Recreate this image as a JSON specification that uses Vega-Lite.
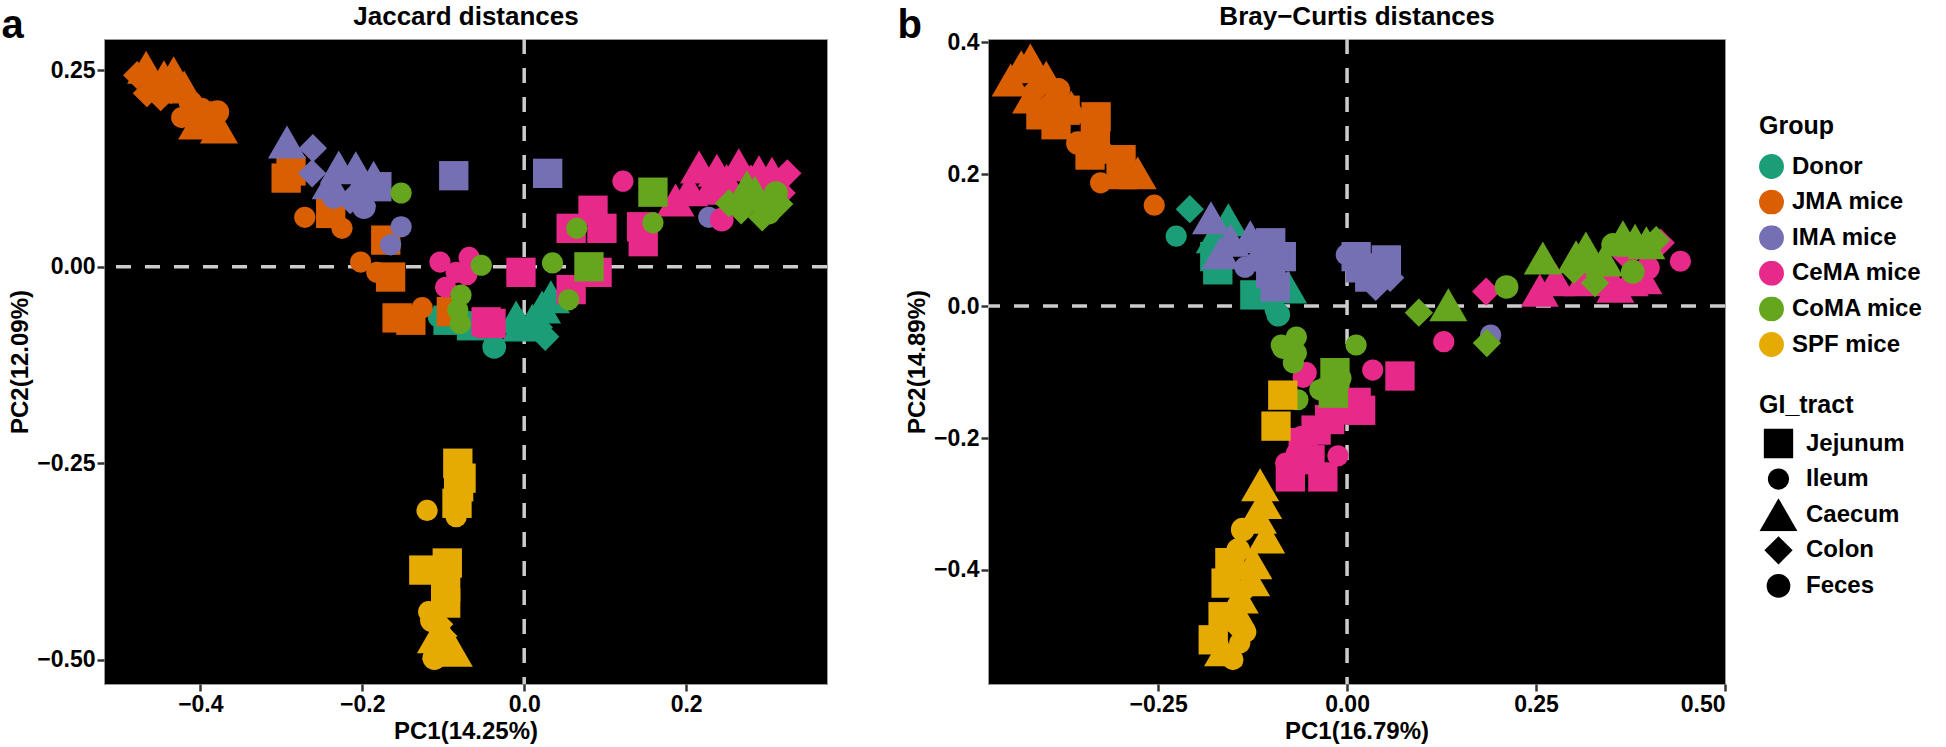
{
"$schema": "https://vega.github.io/schema/vega-lite/v6.json",
"background": "white",
"padding": {"left": 0, "top": 2, "right": 0, "bottom": 0},
"datasets": {"pts": [
{"panel":"a","Group":"Donor","GI_tract":"Caecum","PC1":-0.010,"PC2":-0.064},
{"panel":"a","Group":"Donor","GI_tract":"Caecum","PC1":0.022,"PC2":-0.051},
{"panel":"a","Group":"Donor","GI_tract":"Caecum","PC1":0.033,"PC2":-0.038},
{"panel":"a","Group":"Donor","GI_tract":"Caecum","PC1":0.010,"PC2":-0.068},
{"panel":"a","Group":"Donor","GI_tract":"Caecum","PC1":-0.004,"PC2":-0.074},
{"panel":"a","Group":"Donor","GI_tract":"Colon","PC1":0.018,"PC2":-0.077},
{"panel":"a","Group":"Donor","GI_tract":"Colon","PC1":0.026,"PC2":-0.089},
{"panel":"a","Group":"Donor","GI_tract":"Feces","PC1":-0.037,"PC2":-0.102},
{"panel":"a","Group":"Donor","GI_tract":"Ileum","PC1":-0.106,"PC2":-0.064},
{"panel":"a","Group":"Donor","GI_tract":"Jejunum","PC1":-0.094,"PC2":-0.068},
{"panel":"a","Group":"Donor","GI_tract":"Jejunum","PC1":-0.065,"PC2":-0.075},
{"panel":"a","Group":"JMA mice","GI_tract":"Colon","PC1":-0.478,"PC2":0.244},
{"panel":"a","Group":"JMA mice","GI_tract":"Caecum","PC1":-0.467,"PC2":0.254},
{"panel":"a","Group":"JMA mice","GI_tract":"Caecum","PC1":-0.445,"PC2":0.242},
{"panel":"a","Group":"JMA mice","GI_tract":"Caecum","PC1":-0.433,"PC2":0.247},
{"panel":"a","Group":"JMA mice","GI_tract":"Colon","PC1":-0.449,"PC2":0.216},
{"panel":"a","Group":"JMA mice","GI_tract":"Caecum","PC1":-0.420,"PC2":0.229},
{"panel":"a","Group":"JMA mice","GI_tract":"Feces","PC1":-0.412,"PC2":0.209},
{"panel":"a","Group":"JMA mice","GI_tract":"Ileum","PC1":-0.423,"PC2":0.190},
{"panel":"a","Group":"JMA mice","GI_tract":"Caecum","PC1":-0.387,"PC2":0.191},
{"panel":"a","Group":"JMA mice","GI_tract":"Feces","PC1":-0.379,"PC2":0.197},
{"panel":"a","Group":"JMA mice","GI_tract":"Caecum","PC1":-0.377,"PC2":0.178},
{"panel":"a","Group":"JMA mice","GI_tract":"Colon","PC1":-0.466,"PC2":0.221},
{"panel":"a","Group":"JMA mice","GI_tract":"Caecum","PC1":-0.404,"PC2":0.183},
{"panel":"a","Group":"JMA mice","GI_tract":"Colon","PC1":-0.436,"PC2":0.225},
{"panel":"a","Group":"JMA mice","GI_tract":"Feces","PC1":-0.399,"PC2":0.200},
{"panel":"a","Group":"JMA mice","GI_tract":"Jejunum","PC1":-0.294,"PC2":0.113},
{"panel":"a","Group":"JMA mice","GI_tract":"Jejunum","PC1":-0.288,"PC2":0.122},
{"panel":"a","Group":"JMA mice","GI_tract":"Jejunum","PC1":-0.239,"PC2":0.068},
{"panel":"a","Group":"JMA mice","GI_tract":"Ileum","PC1":-0.271,"PC2":0.063},
{"panel":"a","Group":"JMA mice","GI_tract":"Ileum","PC1":-0.225,"PC2":0.049},
{"panel":"a","Group":"JMA mice","GI_tract":"Jejunum","PC1":-0.171,"PC2":0.034},
{"panel":"a","Group":"JMA mice","GI_tract":"Ileum","PC1":-0.202,"PC2":0.006},
{"panel":"a","Group":"JMA mice","GI_tract":"Ileum","PC1":-0.182,"PC2":-0.007},
{"panel":"a","Group":"JMA mice","GI_tract":"Jejunum","PC1":-0.165,"PC2":-0.013},
{"panel":"a","Group":"JMA mice","GI_tract":"Jejunum","PC1":-0.157,"PC2":-0.065},
{"panel":"a","Group":"JMA mice","GI_tract":"Jejunum","PC1":-0.140,"PC2":-0.068},
{"panel":"a","Group":"JMA mice","GI_tract":"Ileum","PC1":-0.126,"PC2":-0.052},
{"panel":"a","Group":"JMA mice","GI_tract":"Jejunum","PC1":-0.090,"PC2":-0.057},
{"panel":"a","Group":"IMA mice","GI_tract":"Caecum","PC1":-0.293,"PC2":0.159},
{"panel":"a","Group":"IMA mice","GI_tract":"Colon","PC1":-0.261,"PC2":0.151},
{"panel":"a","Group":"IMA mice","GI_tract":"Colon","PC1":-0.262,"PC2":0.119},
{"panel":"a","Group":"IMA mice","GI_tract":"Caecum","PC1":-0.229,"PC2":0.127},
{"panel":"a","Group":"IMA mice","GI_tract":"Caecum","PC1":-0.208,"PC2":0.126},
{"panel":"a","Group":"IMA mice","GI_tract":"Caecum","PC1":-0.186,"PC2":0.114},
{"panel":"a","Group":"IMA mice","GI_tract":"Caecum","PC1":-0.239,"PC2":0.107},
{"panel":"a","Group":"IMA mice","GI_tract":"Feces","PC1":-0.198,"PC2":0.076},
{"panel":"a","Group":"IMA mice","GI_tract":"Jejunum","PC1":-0.182,"PC2":0.102},
{"panel":"a","Group":"IMA mice","GI_tract":"Ileum","PC1":-0.152,"PC2":0.051},
{"panel":"a","Group":"IMA mice","GI_tract":"Ileum","PC1":-0.165,"PC2":0.028},
{"panel":"a","Group":"IMA mice","GI_tract":"Feces","PC1":-0.235,"PC2":0.089},
{"panel":"a","Group":"IMA mice","GI_tract":"Caecum","PC1":-0.206,"PC2":0.098},
{"panel":"a","Group":"IMA mice","GI_tract":"Colon","PC1":-0.215,"PC2":0.085},
{"panel":"a","Group":"IMA mice","GI_tract":"Jejunum","PC1":-0.087,"PC2":0.116},
{"panel":"a","Group":"IMA mice","GI_tract":"Jejunum","PC1":0.029,"PC2":0.119},
{"panel":"a","Group":"IMA mice","GI_tract":"Ileum","PC1":0.228,"PC2":0.063},
{"panel":"a","Group":"CeMA mice","GI_tract":"Ileum","PC1":0.122,"PC2":0.109},
{"panel":"a","Group":"CeMA mice","GI_tract":"Caecum","PC1":0.216,"PC2":0.127},
{"panel":"a","Group":"CeMA mice","GI_tract":"Caecum","PC1":0.238,"PC2":0.123},
{"panel":"a","Group":"CeMA mice","GI_tract":"Caecum","PC1":0.265,"PC2":0.130},
{"panel":"a","Group":"CeMA mice","GI_tract":"Caecum","PC1":0.290,"PC2":0.121},
{"panel":"a","Group":"CeMA mice","GI_tract":"Caecum","PC1":0.306,"PC2":0.119},
{"panel":"a","Group":"CeMA mice","GI_tract":"Caecum","PC1":0.204,"PC2":0.098},
{"panel":"a","Group":"CeMA mice","GI_tract":"Caecum","PC1":0.187,"PC2":0.085},
{"panel":"a","Group":"CeMA mice","GI_tract":"Caecum","PC1":0.250,"PC2":0.110},
{"panel":"a","Group":"CeMA mice","GI_tract":"Caecum","PC1":0.230,"PC2":0.100},
{"panel":"a","Group":"CeMA mice","GI_tract":"Colon","PC1":0.325,"PC2":0.119},
{"panel":"a","Group":"CeMA mice","GI_tract":"Colon","PC1":0.318,"PC2":0.094},
{"panel":"a","Group":"CeMA mice","GI_tract":"Colon","PC1":0.280,"PC2":0.112},
{"panel":"a","Group":"CeMA mice","GI_tract":"Colon","PC1":0.300,"PC2":0.100},
{"panel":"a","Group":"CeMA mice","GI_tract":"Feces","PC1":0.244,"PC2":0.060},
{"panel":"a","Group":"CeMA mice","GI_tract":"Jejunum","PC1":0.085,"PC2":0.072},
{"panel":"a","Group":"CeMA mice","GI_tract":"Jejunum","PC1":0.058,"PC2":0.049},
{"panel":"a","Group":"CeMA mice","GI_tract":"Jejunum","PC1":0.096,"PC2":0.049},
{"panel":"a","Group":"CeMA mice","GI_tract":"Jejunum","PC1":0.145,"PC2":0.051},
{"panel":"a","Group":"CeMA mice","GI_tract":"Jejunum","PC1":0.147,"PC2":0.032},
{"panel":"a","Group":"CeMA mice","GI_tract":"Ileum","PC1":-0.104,"PC2":0.006},
{"panel":"a","Group":"CeMA mice","GI_tract":"Ileum","PC1":-0.068,"PC2":0.012},
{"panel":"a","Group":"CeMA mice","GI_tract":"Ileum","PC1":-0.097,"PC2":-0.026},
{"panel":"a","Group":"CeMA mice","GI_tract":"Ileum","PC1":-0.071,"PC2":-0.010},
{"panel":"a","Group":"CeMA mice","GI_tract":"Ileum","PC1":-0.084,"PC2":-0.007},
{"panel":"a","Group":"CeMA mice","GI_tract":"Jejunum","PC1":-0.004,"PC2":-0.007},
{"panel":"a","Group":"CeMA mice","GI_tract":"Jejunum","PC1":0.090,"PC2":-0.007},
{"panel":"a","Group":"CeMA mice","GI_tract":"Jejunum","PC1":0.058,"PC2":-0.029},
{"panel":"a","Group":"CeMA mice","GI_tract":"Jejunum","PC1":-0.047,"PC2":-0.070},
{"panel":"a","Group":"CeMA mice","GI_tract":"Jejunum","PC1":-0.041,"PC2":-0.072},
{"panel":"a","Group":"CoMA mice","GI_tract":"Ileum","PC1":-0.152,"PC2":0.094},
{"panel":"a","Group":"CoMA mice","GI_tract":"Jejunum","PC1":0.159,"PC2":0.095},
{"panel":"a","Group":"CoMA mice","GI_tract":"Colon","PC1":0.268,"PC2":0.072},
{"panel":"a","Group":"CoMA mice","GI_tract":"Caecum","PC1":0.275,"PC2":0.102},
{"panel":"a","Group":"CoMA mice","GI_tract":"Caecum","PC1":0.285,"PC2":0.095},
{"panel":"a","Group":"CoMA mice","GI_tract":"Feces","PC1":0.311,"PC2":0.094},
{"panel":"a","Group":"CoMA mice","GI_tract":"Feces","PC1":0.302,"PC2":0.069},
{"panel":"a","Group":"CoMA mice","GI_tract":"Colon","PC1":0.294,"PC2":0.063},
{"panel":"a","Group":"CoMA mice","GI_tract":"Colon","PC1":0.253,"PC2":0.081},
{"panel":"a","Group":"CoMA mice","GI_tract":"Colon","PC1":0.315,"PC2":0.080},
{"panel":"a","Group":"CoMA mice","GI_tract":"Feces","PC1":0.286,"PC2":0.085},
{"panel":"a","Group":"CoMA mice","GI_tract":"Ileum","PC1":0.065,"PC2":0.049},
{"panel":"a","Group":"CoMA mice","GI_tract":"Ileum","PC1":0.159,"PC2":0.056},
{"panel":"a","Group":"CoMA mice","GI_tract":"Ileum","PC1":-0.053,"PC2":0.002},
{"panel":"a","Group":"CoMA mice","GI_tract":"Ileum","PC1":0.035,"PC2":0.005},
{"panel":"a","Group":"CoMA mice","GI_tract":"Jejunum","PC1":0.080,"PC2":0.000},
{"panel":"a","Group":"CoMA mice","GI_tract":"Ileum","PC1":0.055,"PC2":-0.042},
{"panel":"a","Group":"CoMA mice","GI_tract":"Ileum","PC1":-0.078,"PC2":-0.036},
{"panel":"a","Group":"CoMA mice","GI_tract":"Ileum","PC1":-0.082,"PC2":-0.055},
{"panel":"a","Group":"CoMA mice","GI_tract":"Ileum","PC1":-0.079,"PC2":-0.072},
{"panel":"a","Group":"SPF mice","GI_tract":"Jejunum","PC1":-0.082,"PC2":-0.250},
{"panel":"a","Group":"SPF mice","GI_tract":"Jejunum","PC1":-0.078,"PC2":-0.269},
{"panel":"a","Group":"SPF mice","GI_tract":"Jejunum","PC1":-0.081,"PC2":-0.280},
{"panel":"a","Group":"SPF mice","GI_tract":"Jejunum","PC1":-0.083,"PC2":-0.301},
{"panel":"a","Group":"SPF mice","GI_tract":"Ileum","PC1":-0.084,"PC2":-0.318},
{"panel":"a","Group":"SPF mice","GI_tract":"Ileum","PC1":-0.120,"PC2":-0.310},
{"panel":"a","Group":"SPF mice","GI_tract":"Jejunum","PC1":-0.124,"PC2":-0.386},
{"panel":"a","Group":"SPF mice","GI_tract":"Jejunum","PC1":-0.095,"PC2":-0.377},
{"panel":"a","Group":"SPF mice","GI_tract":"Jejunum","PC1":-0.097,"PC2":-0.408},
{"panel":"a","Group":"SPF mice","GI_tract":"Jejunum","PC1":-0.097,"PC2":-0.428},
{"panel":"a","Group":"SPF mice","GI_tract":"Ileum","PC1":-0.118,"PC2":-0.439},
{"panel":"a","Group":"SPF mice","GI_tract":"Feces","PC1":-0.114,"PC2":-0.450},
{"panel":"a","Group":"SPF mice","GI_tract":"Colon","PC1":-0.105,"PC2":-0.455},
{"panel":"a","Group":"SPF mice","GI_tract":"Caecum","PC1":-0.102,"PC2":-0.462},
{"panel":"a","Group":"SPF mice","GI_tract":"Colon","PC1":-0.100,"PC2":-0.470},
{"panel":"a","Group":"SPF mice","GI_tract":"Caecum","PC1":-0.109,"PC2":-0.471},
{"panel":"a","Group":"SPF mice","GI_tract":"Caecum","PC1":-0.103,"PC2":-0.479},
{"panel":"a","Group":"SPF mice","GI_tract":"Caecum","PC1":-0.087,"PC2":-0.488},
{"panel":"a","Group":"SPF mice","GI_tract":"Feces","PC1":-0.111,"PC2":-0.498},
{"panel":"b","Group":"Donor","GI_tract":"Colon","PC1":-0.208,"PC2":0.147},
{"panel":"b","Group":"Donor","GI_tract":"Ileum","PC1":-0.226,"PC2":0.106},
{"panel":"b","Group":"Donor","GI_tract":"Caecum","PC1":-0.157,"PC2":0.131},
{"panel":"b","Group":"Donor","GI_tract":"Caecum","PC1":-0.175,"PC2":0.105},
{"panel":"b","Group":"Donor","GI_tract":"Jejunum","PC1":-0.171,"PC2":0.055},
{"panel":"b","Group":"Donor","GI_tract":"Jejunum","PC1":-0.175,"PC2":0.075},
{"panel":"b","Group":"Donor","GI_tract":"Jejunum","PC1":-0.122,"PC2":0.017},
{"panel":"b","Group":"Donor","GI_tract":"Caecum","PC1":-0.078,"PC2":0.029},
{"panel":"b","Group":"Donor","GI_tract":"Ileum","PC1":-0.095,"PC2":-0.005},
{"panel":"b","Group":"Donor","GI_tract":"Feces","PC1":-0.091,"PC2":-0.013},
{"panel":"b","Group":"JMA mice","GI_tract":"Caecum","PC1":-0.431,"PC2":0.363},
{"panel":"b","Group":"JMA mice","GI_tract":"Caecum","PC1":-0.419,"PC2":0.373},
{"panel":"b","Group":"JMA mice","GI_tract":"Caecum","PC1":-0.398,"PC2":0.347},
{"panel":"b","Group":"JMA mice","GI_tract":"Caecum","PC1":-0.445,"PC2":0.343},
{"panel":"b","Group":"JMA mice","GI_tract":"Caecum","PC1":-0.380,"PC2":0.317},
{"panel":"b","Group":"JMA mice","GI_tract":"Caecum","PC1":-0.418,"PC2":0.317},
{"panel":"b","Group":"JMA mice","GI_tract":"Colon","PC1":-0.410,"PC2":0.330},
{"panel":"b","Group":"JMA mice","GI_tract":"Colon","PC1":-0.390,"PC2":0.310},
{"panel":"b","Group":"JMA mice","GI_tract":"Feces","PC1":-0.382,"PC2":0.328},
{"panel":"b","Group":"JMA mice","GI_tract":"Jejunum","PC1":-0.405,"PC2":0.290},
{"panel":"b","Group":"JMA mice","GI_tract":"Jejunum","PC1":-0.385,"PC2":0.275},
{"panel":"b","Group":"JMA mice","GI_tract":"Jejunum","PC1":-0.373,"PC2":0.297},
{"panel":"b","Group":"JMA mice","GI_tract":"Caecum","PC1":-0.365,"PC2":0.302},
{"panel":"b","Group":"JMA mice","GI_tract":"Jejunum","PC1":-0.332,"PC2":0.287},
{"panel":"b","Group":"JMA mice","GI_tract":"Jejunum","PC1":-0.333,"PC2":0.256},
{"panel":"b","Group":"JMA mice","GI_tract":"Feces","PC1":-0.356,"PC2":0.247},
{"panel":"b","Group":"JMA mice","GI_tract":"Jejunum","PC1":-0.340,"PC2":0.229},
{"panel":"b","Group":"JMA mice","GI_tract":"Caecum","PC1":-0.323,"PC2":0.241},
{"panel":"b","Group":"JMA mice","GI_tract":"Jejunum","PC1":-0.299,"PC2":0.222},
{"panel":"b","Group":"JMA mice","GI_tract":"Caecum","PC1":-0.303,"PC2":0.202},
{"panel":"b","Group":"JMA mice","GI_tract":"Caecum","PC1":-0.277,"PC2":0.202},
{"panel":"b","Group":"JMA mice","GI_tract":"Ileum","PC1":-0.326,"PC2":0.187},
{"panel":"b","Group":"JMA mice","GI_tract":"Ileum","PC1":-0.255,"PC2":0.153},
{"panel":"b","Group":"IMA mice","GI_tract":"Caecum","PC1":-0.180,"PC2":0.134},
{"panel":"b","Group":"IMA mice","GI_tract":"Caecum","PC1":-0.154,"PC2":0.100},
{"panel":"b","Group":"IMA mice","GI_tract":"Caecum","PC1":-0.128,"PC2":0.105},
{"panel":"b","Group":"IMA mice","GI_tract":"Caecum","PC1":-0.167,"PC2":0.081},
{"panel":"b","Group":"IMA mice","GI_tract":"Jejunum","PC1":-0.101,"PC2":0.096},
{"panel":"b","Group":"IMA mice","GI_tract":"Jejunum","PC1":-0.087,"PC2":0.075},
{"panel":"b","Group":"IMA mice","GI_tract":"Jejunum","PC1":-0.101,"PC2":0.050},
{"panel":"b","Group":"IMA mice","GI_tract":"Jejunum","PC1":-0.095,"PC2":0.029},
{"panel":"b","Group":"IMA mice","GI_tract":"Ileum","PC1":-0.135,"PC2":0.059},
{"panel":"b","Group":"IMA mice","GI_tract":"Colon","PC1":-0.118,"PC2":0.070},
{"panel":"b","Group":"IMA mice","GI_tract":"Ileum","PC1":-0.001,"PC2":0.078},
{"panel":"b","Group":"IMA mice","GI_tract":"Jejunum","PC1":0.012,"PC2":0.075},
{"panel":"b","Group":"IMA mice","GI_tract":"Jejunum","PC1":0.052,"PC2":0.070},
{"panel":"b","Group":"IMA mice","GI_tract":"Jejunum","PC1":0.018,"PC2":0.058},
{"panel":"b","Group":"IMA mice","GI_tract":"Jejunum","PC1":0.030,"PC2":0.044},
{"panel":"b","Group":"IMA mice","GI_tract":"Colon","PC1":0.057,"PC2":0.043},
{"panel":"b","Group":"IMA mice","GI_tract":"Colon","PC1":0.038,"PC2":0.029},
{"panel":"b","Group":"IMA mice","GI_tract":"Ileum","PC1":0.190,"PC2":-0.044},
{"panel":"b","Group":"CeMA mice","GI_tract":"Colon","PC1":0.184,"PC2":0.022},
{"panel":"b","Group":"CeMA mice","GI_tract":"Ileum","PC1":0.128,"PC2":-0.054},
{"panel":"b","Group":"CeMA mice","GI_tract":"Caecum","PC1":0.255,"PC2":0.024},
{"panel":"b","Group":"CeMA mice","GI_tract":"Caecum","PC1":0.276,"PC2":0.040},
{"panel":"b","Group":"CeMA mice","GI_tract":"Caecum","PC1":0.312,"PC2":0.040},
{"panel":"b","Group":"CeMA mice","GI_tract":"Caecum","PC1":0.339,"PC2":0.055},
{"panel":"b","Group":"CeMA mice","GI_tract":"Caecum","PC1":0.355,"PC2":0.030},
{"panel":"b","Group":"CeMA mice","GI_tract":"Caecum","PC1":0.374,"PC2":0.040},
{"panel":"b","Group":"CeMA mice","GI_tract":"Caecum","PC1":0.392,"PC2":0.043},
{"panel":"b","Group":"CeMA mice","GI_tract":"Colon","PC1":0.343,"PC2":0.029},
{"panel":"b","Group":"CeMA mice","GI_tract":"Colon","PC1":0.370,"PC2":0.075},
{"panel":"b","Group":"CeMA mice","GI_tract":"Colon","PC1":0.415,"PC2":0.096},
{"panel":"b","Group":"CeMA mice","GI_tract":"Feces","PC1":0.398,"PC2":0.058},
{"panel":"b","Group":"CeMA mice","GI_tract":"Ileum","PC1":0.441,"PC2":0.068},
{"panel":"b","Group":"CeMA mice","GI_tract":"Ileum","PC1":0.034,"PC2":-0.097},
{"panel":"b","Group":"CeMA mice","GI_tract":"Jejunum","PC1":0.070,"PC2":-0.106},
{"panel":"b","Group":"CeMA mice","GI_tract":"Ileum","PC1":-0.054,"PC2":-0.101},
{"panel":"b","Group":"CeMA mice","GI_tract":"Ileum","PC1":-0.058,"PC2":-0.108},
{"panel":"b","Group":"CeMA mice","GI_tract":"Jejunum","PC1":0.012,"PC2":-0.146},
{"panel":"b","Group":"CeMA mice","GI_tract":"Jejunum","PC1":0.018,"PC2":-0.158},
{"panel":"b","Group":"CeMA mice","GI_tract":"Jejunum","PC1":-0.018,"PC2":-0.157},
{"panel":"b","Group":"CeMA mice","GI_tract":"Jejunum","PC1":-0.023,"PC2":-0.172},
{"panel":"b","Group":"CeMA mice","GI_tract":"Jejunum","PC1":-0.041,"PC2":-0.188},
{"panel":"b","Group":"CeMA mice","GI_tract":"Ileum","PC1":-0.061,"PC2":-0.198},
{"panel":"b","Group":"CeMA mice","GI_tract":"Jejunum","PC1":-0.058,"PC2":-0.207},
{"panel":"b","Group":"CeMA mice","GI_tract":"Ileum","PC1":-0.067,"PC2":-0.223},
{"panel":"b","Group":"CeMA mice","GI_tract":"Jejunum","PC1":-0.049,"PC2":-0.233},
{"panel":"b","Group":"CeMA mice","GI_tract":"Ileum","PC1":-0.012,"PC2":-0.227},
{"panel":"b","Group":"CeMA mice","GI_tract":"Ileum","PC1":-0.081,"PC2":-0.238},
{"panel":"b","Group":"CeMA mice","GI_tract":"Jejunum","PC1":-0.075,"PC2":-0.259},
{"panel":"b","Group":"CeMA mice","GI_tract":"Jejunum","PC1":-0.032,"PC2":-0.259},
{"panel":"b","Group":"CoMA mice","GI_tract":"Colon","PC1":0.095,"PC2":-0.010},
{"panel":"b","Group":"CoMA mice","GI_tract":"Caecum","PC1":0.134,"PC2":0.002},
{"panel":"b","Group":"CoMA mice","GI_tract":"Feces","PC1":0.211,"PC2":0.029},
{"panel":"b","Group":"CoMA mice","GI_tract":"Colon","PC1":0.185,"PC2":-0.056},
{"panel":"b","Group":"CoMA mice","GI_tract":"Caecum","PC1":0.259,"PC2":0.073},
{"panel":"b","Group":"CoMA mice","GI_tract":"Caecum","PC1":0.303,"PC2":0.075},
{"panel":"b","Group":"CoMA mice","GI_tract":"Caecum","PC1":0.316,"PC2":0.088},
{"panel":"b","Group":"CoMA mice","GI_tract":"Caecum","PC1":0.340,"PC2":0.070},
{"panel":"b","Group":"CoMA mice","GI_tract":"Caecum","PC1":0.365,"PC2":0.105},
{"panel":"b","Group":"CoMA mice","GI_tract":"Caecum","PC1":0.381,"PC2":0.100},
{"panel":"b","Group":"CoMA mice","GI_tract":"Caecum","PC1":0.396,"PC2":0.096},
{"panel":"b","Group":"CoMA mice","GI_tract":"Feces","PC1":0.352,"PC2":0.093},
{"panel":"b","Group":"CoMA mice","GI_tract":"Feces","PC1":0.378,"PC2":0.052},
{"panel":"b","Group":"CoMA mice","GI_tract":"Feces","PC1":0.329,"PC2":0.060},
{"panel":"b","Group":"CoMA mice","GI_tract":"Colon","PC1":0.328,"PC2":0.035},
{"panel":"b","Group":"CoMA mice","GI_tract":"Colon","PC1":0.300,"PC2":0.055},
{"panel":"b","Group":"CoMA mice","GI_tract":"Colon","PC1":0.409,"PC2":0.100},
{"panel":"b","Group":"CoMA mice","GI_tract":"Ileum","PC1":-0.067,"PC2":-0.047},
{"panel":"b","Group":"CoMA mice","GI_tract":"Ileum","PC1":-0.087,"PC2":-0.059},
{"panel":"b","Group":"CoMA mice","GI_tract":"Ileum","PC1":-0.085,"PC2":-0.064},
{"panel":"b","Group":"CoMA mice","GI_tract":"Ileum","PC1":-0.067,"PC2":-0.071},
{"panel":"b","Group":"CoMA mice","GI_tract":"Ileum","PC1":-0.071,"PC2":-0.086},
{"panel":"b","Group":"CoMA mice","GI_tract":"Ileum","PC1":0.012,"PC2":-0.059},
{"panel":"b","Group":"CoMA mice","GI_tract":"Jejunum","PC1":-0.016,"PC2":-0.101},
{"panel":"b","Group":"CoMA mice","GI_tract":"Ileum","PC1":-0.008,"PC2":-0.109},
{"panel":"b","Group":"CoMA mice","GI_tract":"Ileum","PC1":-0.036,"PC2":-0.127},
{"panel":"b","Group":"CoMA mice","GI_tract":"Jejunum","PC1":-0.018,"PC2":-0.132},
{"panel":"b","Group":"CoMA mice","GI_tract":"Ileum","PC1":-0.065,"PC2":-0.142},
{"panel":"b","Group":"SPF mice","GI_tract":"Jejunum","PC1":-0.085,"PC2":-0.135},
{"panel":"b","Group":"SPF mice","GI_tract":"Jejunum","PC1":-0.094,"PC2":-0.182},
{"panel":"b","Group":"SPF mice","GI_tract":"Caecum","PC1":-0.115,"PC2":-0.271},
{"panel":"b","Group":"SPF mice","GI_tract":"Caecum","PC1":-0.111,"PC2":-0.298},
{"panel":"b","Group":"SPF mice","GI_tract":"Caecum","PC1":-0.118,"PC2":-0.320},
{"panel":"b","Group":"SPF mice","GI_tract":"Feces","PC1":-0.138,"PC2":-0.339},
{"panel":"b","Group":"SPF mice","GI_tract":"Caecum","PC1":-0.107,"PC2":-0.350},
{"panel":"b","Group":"SPF mice","GI_tract":"Feces","PC1":-0.144,"PC2":-0.370},
{"panel":"b","Group":"SPF mice","GI_tract":"Caecum","PC1":-0.124,"PC2":-0.389},
{"panel":"b","Group":"SPF mice","GI_tract":"Jejunum","PC1":-0.155,"PC2":-0.389},
{"panel":"b","Group":"SPF mice","GI_tract":"Caecum","PC1":-0.127,"PC2":-0.415},
{"panel":"b","Group":"SPF mice","GI_tract":"Jejunum","PC1":-0.160,"PC2":-0.420},
{"panel":"b","Group":"SPF mice","GI_tract":"Colon","PC1":-0.135,"PC2":-0.430},
{"panel":"b","Group":"SPF mice","GI_tract":"Caecum","PC1":-0.142,"PC2":-0.441},
{"panel":"b","Group":"SPF mice","GI_tract":"Caecum","PC1":-0.147,"PC2":-0.461},
{"panel":"b","Group":"SPF mice","GI_tract":"Jejunum","PC1":-0.164,"PC2":-0.471},
{"panel":"b","Group":"SPF mice","GI_tract":"Colon","PC1":-0.150,"PC2":-0.480},
{"panel":"b","Group":"SPF mice","GI_tract":"Ileum","PC1":-0.134,"PC2":-0.494},
{"panel":"b","Group":"SPF mice","GI_tract":"Jejunum","PC1":-0.177,"PC2":-0.506},
{"panel":"b","Group":"SPF mice","GI_tract":"Ileum","PC1":-0.142,"PC2":-0.511},
{"panel":"b","Group":"SPF mice","GI_tract":"Caecum","PC1":-0.164,"PC2":-0.521},
{"panel":"b","Group":"SPF mice","GI_tract":"Ileum","PC1":-0.151,"PC2":-0.536}
]},
"config": {
  "font": "Liberation Sans",
  "view": {"fill": "black", "stroke": "#9a9a9a", "strokeWidth": 1},
  "axis": {"labelFont": "Liberation Sans", "labelFontWeight": "bold", "labelFontSize": 23, "labelColor": "black",
           "titleFont": "Liberation Sans", "titleFontWeight": "bold", "titleFontSize": 24, "titleColor": "black",
           "tickColor": "#333333", "tickWidth": 2.5, "tickSize": 7, "domain": false, "grid": false, "labelPadding": 2},
  "legend": {"titleFont": "Liberation Sans", "titleFontSize": 25, "titleFontWeight": "bold", "titleColor": "black",
             "labelFont": "Liberation Sans", "labelFontSize": 24, "labelFontWeight": "bold", "labelColor": "black",
             "labelOffset": 8}
},
"spacing": 66,
"hconcat": [
  {
    "width": 723, "height": 645,
    "resolve": {"axis": {"x": "independent", "y": "independent"}},
    "layer": [
      {"data": {"values": [{}]},
       "mark": {"type": "rule", "color": "#cccccc", "strokeWidth": 3.5, "strokeDash": [15, 14]},
       "encoding": {"x": {"datum": 0, "type": "quantitative",
          "axis": {"orient": "top", "title": "Jaccard distances", "labels": false, "ticks": false, "domain": false, "titleFontSize": 26, "titlePadding": 15, "titleBaseline": "alphabetic"}}}},
      {"data": {"values": [{}]},
       "mark": {"type": "rule", "color": "#cccccc", "strokeWidth": 3.5, "strokeDash": [15, 14]},
       "encoding": {"y": {"datum": 0, "type": "quantitative",
          "axis": {"orient": "left", "title": "a", "labels": false, "ticks": false, "domain": false, "titleAngle": 0, "titleX": -103, "titleY": -2, "titleAlign": "left", "titleBaseline": "alphabetic", "titleFontSize": 40}}}},
      {"data": {"name": "pts"},
       "transform": [{"filter": "datum.panel === 'a'"}],
       "mark": {"type": "point", "filled": true, "opacity": 1, "strokeWidth": 0},
       "encoding": {
         "x": {"field": "PC1", "type": "quantitative", "scale": {"domain": [-0.519, 0.374], "nice": false, "zero": false},
               "axis": {"orient": "bottom", "title": "PC1(14.25%)", "values": [-0.4, -0.2, 0, 0.2], "format": ".1f", "titlePadding": 3}},
         "y": {"field": "PC2", "type": "quantitative", "scale": {"domain": [-0.531, 0.290], "nice": false, "zero": false},
               "axis": {"orient": "left", "title": "PC2(12.09%)", "values": [-0.5, -0.25, 0, 0.25], "format": ".2f", "titlePadding": 4}},
         "color": {"field": "Group", "type": "nominal",
                   "scale": {"domain": ["Donor", "JMA mice", "IMA mice", "CeMA mice", "CoMA mice", "SPF mice"],
                             "range": ["#1B9E77", "#D95F02", "#7570B3", "#E7298A", "#66A61E", "#E6AB02"]},
                   "legend": {"title": "Group", "orient": "none", "legendX": 1655, "legendY": 75, "symbolType": "circle", "symbolSize": 620, "symbolStrokeWidth": 0, "clipHeight": 25, "rowPadding": 10.6, "titlePadding": 15}},
         "shape": {"field": "GI_tract", "type": "nominal",
                   "scale": {"domain": ["Jejunum", "Ileum", "Caecum", "Colon", "Feces"], "range": ["square", "circle", "triangle-up", "diamond", "circle"]},
                   "legend": {"title": "GI_tract", "orient": "none", "legendX": 1655, "legendY": 354, "symbolFillColor": "black", "symbolStrokeWidth": 0, "clipHeight": 33, "rowPadding": 2.6, "titlePadding": 9}},
         "size": {"field": "GI_tract", "type": "nominal",
                  "scale": {"type": "ordinal", "domain": ["Jejunum", "Ileum", "Caecum", "Colon", "Feces"], "range": [860, 450, 1450, 800, 560]},
                  "legend": {"title": "GI_tract", "orient": "none", "legendX": 1655, "legendY": 354, "symbolFillColor": "black", "symbolStrokeWidth": 0, "clipHeight": 33, "rowPadding": 2.6, "titlePadding": 9}}
       }}
    ]
  },
  {
    "width": 737, "height": 645,
    "resolve": {"axis": {"x": "independent", "y": "independent"}},
    "layer": [
      {"data": {"values": [{}]},
       "mark": {"type": "rule", "color": "#cccccc", "strokeWidth": 3.5, "strokeDash": [15, 14]},
       "encoding": {"x": {"datum": 0, "type": "quantitative",
          "axis": {"orient": "top", "title": "Bray−Curtis distances", "labels": false, "ticks": false, "domain": false, "titleFontSize": 26, "titlePadding": 15, "titleBaseline": "alphabetic"}}}},
      {"data": {"values": [{}]},
       "mark": {"type": "rule", "color": "#cccccc", "strokeWidth": 3.5, "strokeDash": [15, 14]},
       "encoding": {"y": {"datum": 0, "type": "quantitative",
          "axis": {"orient": "left", "title": "b", "labels": false, "ticks": false, "domain": false, "titleAngle": 0, "titleX": -91, "titleY": -2, "titleAlign": "left", "titleBaseline": "alphabetic", "titleFontSize": 40}}}},
      {"data": {"name": "pts"},
       "transform": [{"filter": "datum.panel === 'b'"}],
       "mark": {"type": "point", "filled": true, "opacity": 1, "strokeWidth": 0},
       "encoding": {
         "x": {"field": "PC1", "type": "quantitative", "scale": {"domain": [-0.475, 0.50], "nice": false, "zero": false},
               "axis": {"orient": "bottom", "title": "PC1(16.79%)", "values": [-0.25, 0, 0.25, 0.5], "format": ".2f", "titlePadding": 3}},
         "y": {"field": "PC2", "type": "quantitative", "scale": {"domain": [-0.573, 0.405], "nice": false, "zero": false},
               "axis": {"orient": "left", "title": "PC2(14.89%)", "values": [-0.4, -0.2, 0, 0.2, 0.4], "format": ".1f", "titlePadding": 4}},
         "color": {"field": "Group", "type": "nominal",
                   "scale": {"domain": ["Donor", "JMA mice", "IMA mice", "CeMA mice", "CoMA mice", "SPF mice"],
                             "range": ["#1B9E77", "#D95F02", "#7570B3", "#E7298A", "#66A61E", "#E6AB02"]},
                   "legend": {"title": "Group", "orient": "none", "legendX": 1655, "legendY": 75, "symbolType": "circle", "symbolSize": 620, "symbolStrokeWidth": 0, "clipHeight": 25, "rowPadding": 10.6, "titlePadding": 15}},
         "shape": {"field": "GI_tract", "type": "nominal",
                   "scale": {"domain": ["Jejunum", "Ileum", "Caecum", "Colon", "Feces"], "range": ["square", "circle", "triangle-up", "diamond", "circle"]},
                   "legend": {"title": "GI_tract", "orient": "none", "legendX": 1655, "legendY": 354, "symbolFillColor": "black", "symbolStrokeWidth": 0, "clipHeight": 33, "rowPadding": 2.6, "titlePadding": 9}},
         "size": {"field": "GI_tract", "type": "nominal",
                  "scale": {"type": "ordinal", "domain": ["Jejunum", "Ileum", "Caecum", "Colon", "Feces"], "range": [860, 450, 1450, 800, 560]},
                  "legend": {"title": "GI_tract", "orient": "none", "legendX": 1655, "legendY": 354, "symbolFillColor": "black", "symbolStrokeWidth": 0, "clipHeight": 33, "rowPadding": 2.6, "titlePadding": 9}}
       }}
    ]
  }
]
}
